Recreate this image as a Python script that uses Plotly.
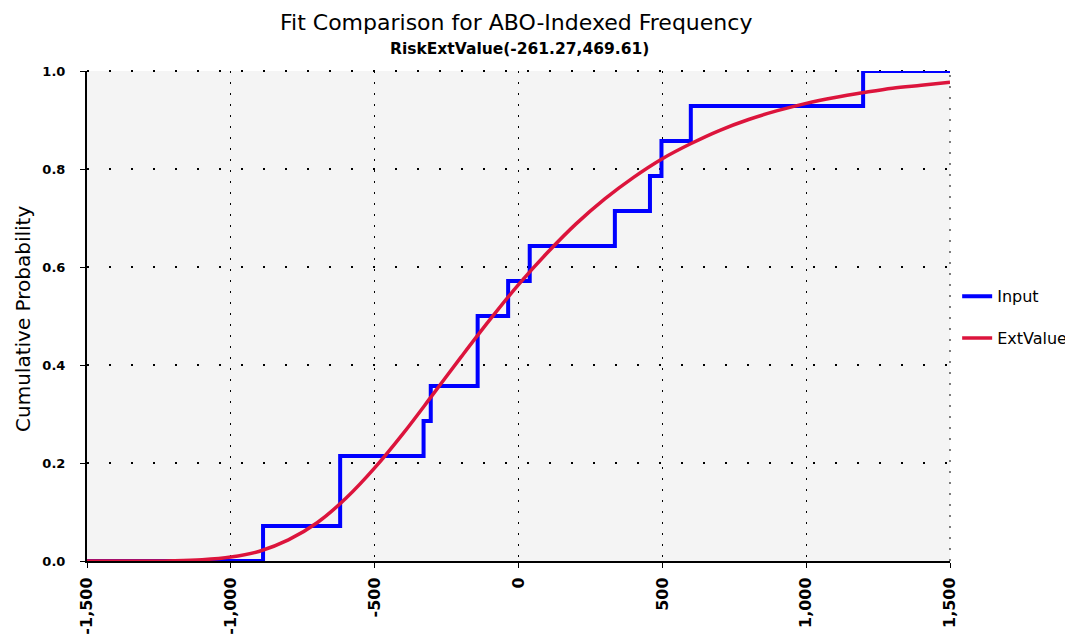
import plotly.graph_objects as go

# Input sample values (read from step positions of the empirical CDF)
input_values = [-888, -620, -620, -330, -305, -142, -142, -36, 39, 335, 457, 497, 599, 1198]

# Fitted ExtValue CDF
ext_x = [-1500, -1400, -1300, -1200, -1100, -1000, -900, -800, -700, -600, -500,
         -400, -300, -200, -100, 0, 100, 200, 300, 400, 500, 600, 700, 800, 900,
         1000, 1100, 1200, 1300, 1400, 1500]
ext_p = [0.0, 0.0, 0.0001, 0.0006, 0.0026, 0.008, 0.020, 0.043, 0.078, 0.128, 0.190,
         0.261, 0.338, 0.416, 0.492, 0.564, 0.629, 0.688, 0.739, 0.783, 0.821, 0.852,
         0.879, 0.901, 0.919, 0.934, 0.946, 0.956, 0.965, 0.971, 0.977]

x_tick_vals = [-1500, -1000, -500, 0, 500, 1000, 1500]
x_tick_text = ["-1,500", "-1,000", "-500", "0", "500", "1,000", "1,500"]
y_tick_vals = [0.0, 0.2, 0.4, 0.6, 0.8, 1.0]
y_tick_text = ["0.0", "0.2", "0.4", "0.6", "0.8", "1.0"]

x_min, x_max = -1500, 1500

# empirical step function
sv = sorted(input_values)
n = len(sv)
step_x = [x_min] + sv + [x_max]
step_y = [0.0] + [(i + 1) / n for i in range(n)] + [1.0]

fig = go.Figure()
fig.add_trace(go.Scatter(x=step_x, y=step_y, mode="lines", name="Input",
                         line=dict(color="#0000FF", width=4, shape="hv"),
                         legendgroup="a"))
fig.add_trace(go.Scatter(x=ext_x, y=ext_p, mode="lines", name="ExtValue",
                         line=dict(color="#DC143C", width=3.5, shape="spline"),
                         legendgroup="b"))

xtick_font = dict(family="DejaVu Sans", size=16, color="black", weight="bold")
ytick_font = dict(family="DejaVu Sans", size=13, color="black", weight="bold")

fig.update_layout(
    width=1073, height=634,
    margin=dict(l=79, r=131, t=63, b=81, autoexpand=False),
    paper_bgcolor="white", plot_bgcolor="#F4F4F4",
    showlegend=True,
    legend=dict(x=1.0083, xanchor="left", y=0.575, yanchor="top",
                font=dict(family="DejaVu Sans", size=16, color="black"),
                bgcolor="rgba(0,0,0,0)", tracegroupgap=18, traceorder="grouped",
                itemwidth=30),
    xaxis=dict(range=[x_min, x_max], tickvals=x_tick_vals, ticktext=x_tick_text,
               tickangle=-90, tickfont=xtick_font, showline=True, linecolor="black",
               linewidth=2, ticks="outside", ticklen=5, tickcolor="black",
               ticklabelstandoff=3,
               showgrid=True, gridcolor="black", griddash="2px,9px", gridwidth=1,
               zeroline=False, automargin=False),
    yaxis=dict(range=[0, 1], tickvals=y_tick_vals, ticktext=y_tick_text,
               tickfont=ytick_font, showline=True, linecolor="black", linewidth=2,
               ticks="outside", ticklen=5, tickcolor="black",
               ticklabelstandoff=12,
               showgrid=True, gridcolor="black", griddash="2px,20px", gridwidth=2,
               zeroline=False, automargin=False),
    shapes=[
        dict(type="line", xref="paper", yref="paper", x0=0, x1=1, y0=1, y1=1,
             line=dict(color="black", width=2, dash="2px,20px"), layer="below"),
        dict(type="line", xref="paper", yref="paper", x0=1, x1=1, y0=0, y1=1,
             line=dict(color="black", width=1, dash="2px,9px"), layer="below"),
    ],
    annotations=[
        dict(text="Fit Comparison for ABO-Indexed Frequency", xref="paper", yref="paper",
             x=(507.5 - 79) / 863, y=1, yanchor="middle", xanchor="center", yshift=49,
             showarrow=False,
             font=dict(family="DejaVu Sans", size=22, color="black")),
        dict(text="RiskExtValue(-261.27,469.61)", xref="paper", yref="paper",
             x=(511 - 79) / 863, y=1, yanchor="middle", xanchor="center", yshift=22,
             showarrow=False,
             font=dict(family="DejaVu Sans", size=15.5, color="black", weight="bold")),
        dict(text="Cumulative Probability", xref="paper", yref="paper",
             x=(15 - 79) / 863, y=0.494, xanchor="center", yanchor="middle",
             textangle=-90, showarrow=False,
             font=dict(family="DejaVu Sans", size=20, color="black")),
    ],
)

fig.write_html("out.html")
